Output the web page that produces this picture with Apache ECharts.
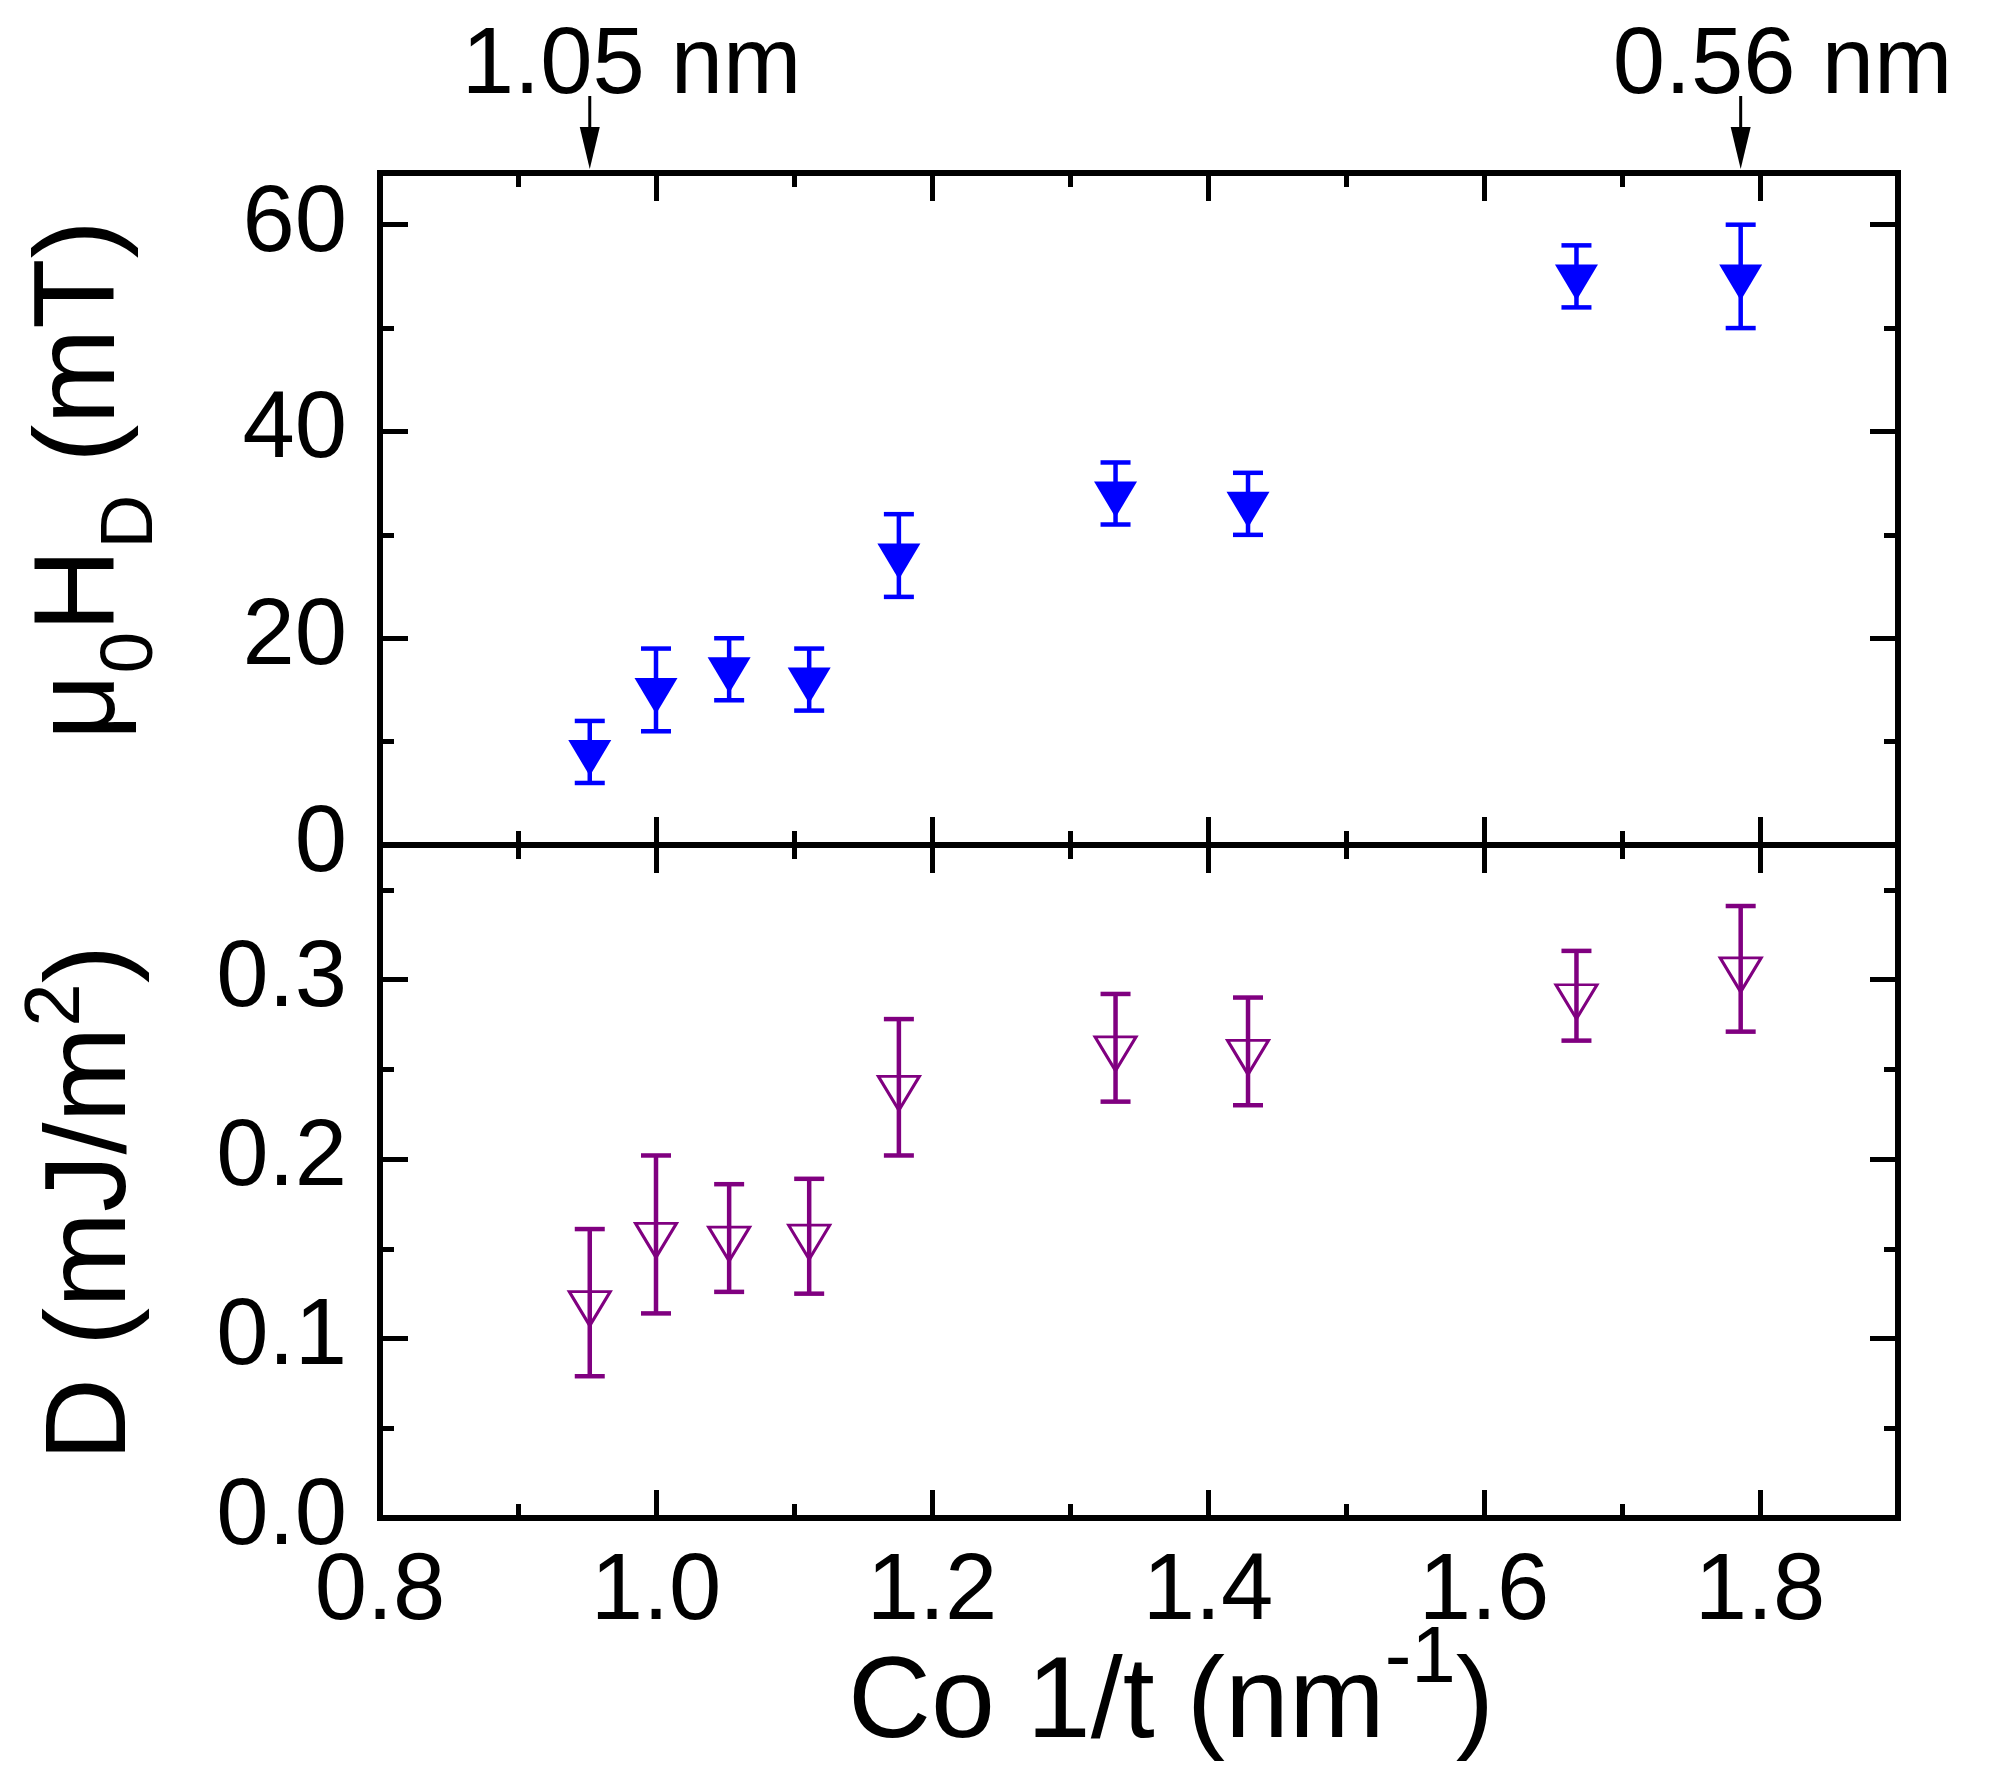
<!DOCTYPE html>
<html>
<head>
<meta charset="utf-8">
<title>H_D and D versus Co 1/t</title>
<script src="https://cdn.jsdelivr.net/npm/echarts@6/dist/echarts.min.js"></script>
<style>
  html, body { margin: 0; padding: 0; background: #fff; }
  #chart { width: 2007px; height: 1771px; }
</style>
</head>
<body>
<div id="chart"></div>
<script>
// Co inverse thickness 1/t (nm^-1), one per sample
var invT = [0.952, 1.000, 1.053, 1.111, 1.176, 1.333, 1.429, 1.667, 1.786];
// mu0 H_D (mT) with error
var hdVal = [9, 15, 17, 16, 28, 34, 33, 55, 55];
var hdErr = [3, 4, 3, 3, 4, 3, 3, 3, 5];
// D (mJ/m^2) with error
var dVal = [0.120, 0.158, 0.156, 0.157, 0.240, 0.262, 0.260, 0.291, 0.306];
var dErr = [0.041, 0.044, 0.030, 0.032, 0.038, 0.030, 0.030, 0.025, 0.035];
// thickness arrows above the top frame
var markX = [0.952, 1.786];
var markText = ['1.05 nm', '0.56 nm'];

var xMin = 0.8, xMax = 1.9, xStep = 0.2;
var hdMin = 0, hdMax = 65, hdStep = 20;
var dMin = 0, dMax = 0.375, dStep = 0.1;

var FONT = "'Liberation Sans', Arial, sans-serif";
var BLUE = '#0000ff', PURPLE = '#800080';
var TRI = 'path://M0,0L100,0L50,86.6Z'; // downward triangle

function frameAxis(gridIndex, position, min, max, interval, tickLen, showLine, label) {
    return {
        type: 'value', gridIndex: gridIndex, position: position,
        min: min, max: max, interval: interval,
        axisLine: { show: showLine, onZero: false, lineStyle: { color: '#000', width: 6, cap: 'square' } },
        axisTick: { show: true, inside: true, length: tickLen, lineStyle: { color: '#000', width: 5 } },
        axisLabel: label ? Object.assign({ show: true, showMaxLabel: false, color: '#000',
            fontSize: 94, fontFamily: FONT }, label) : { show: false },
        splitLine: { show: false }
    };
}

// each edge gets a long-tick axis and a short-tick (minor) axis on top of it
function edge(list, gridIndex, position, min, max, step, label) {
    list.push(frameAxis(gridIndex, position, min, max, step, 28, true, label));
    list.push(frameAxis(gridIndex, position, min, max, step / 2, 14, false, null));
}

var xAxes = [], yAxes = [];
var xLabel = { margin: 28, formatter: function (v) { return v.toFixed(1); } };
edge(xAxes, 0, 'top', xMin, xMax, xStep, null);        // 0,1
edge(xAxes, 0, 'bottom', xMin, xMax, xStep, null);     // 2,3
edge(xAxes, 1, 'top', xMin, xMax, xStep, null);        // 4,5
edge(xAxes, 1, 'bottom', xMin, xMax, xStep, xLabel);   // 6,7
edge(yAxes, 0, 'left', hdMin, hdMax, hdStep, { margin: 33 });   // 0,1
edge(yAxes, 0, 'right', hdMin, hdMax, hdStep, null);            // 2,3
edge(yAxes, 1, 'left', dMin, dMax, dStep, { margin: 33, formatter: function (v) { return v.toFixed(1); } }); // 4,5
edge(yAxes, 1, 'right', dMin, dMax, dStep, null);               // 6,7

function errorBars(color) {
    return function (params, api) {
        var x = api.value(0), y = api.value(1), e = api.value(2);
        var hi = api.coord([x, y + e]);
        var lo = api.coord([x, y - e]);
        var half = 15;
        var st = { stroke: color, lineWidth: 4.5 };
        return {
            type: 'group',
            children: [
                { type: 'line', shape: { x1: hi[0], y1: hi[1], x2: lo[0], y2: lo[1] }, style: st },
                { type: 'line', shape: { x1: hi[0] - half, y1: hi[1], x2: hi[0] + half, y2: hi[1] }, style: st },
                { type: 'line', shape: { x1: lo[0] - half, y1: lo[1], x2: lo[0] + half, y2: lo[1] }, style: st }
            ]
        };
    };
}

function zip3(a, b, c) {
    return a.map(function (v, i) { return [v, b[i], c[i]]; });
}
function zip2(a, b) {
    return a.map(function (v, i) { return [v, b[i]]; });
}

var chart = echarts.init(document.getElementById('chart'), null, { renderer: 'canvas' });

// rich text: token 'height' sets where a sub/superscript sits inside the 115px line
var mainRich = { fill: '#000', fontSize: 115, fontFamily: FONT, lineHeight: 115 };
function rich(extra) { return Object.assign({}, mainRich, extra); }
function subStyle(size, h) { return rich({ fontSize: size, height: h, lineHeight: h, verticalAlign: 'bottom' }); }
function supStyle(size, h) { return rich({ fontSize: size, height: h, lineHeight: h, verticalAlign: 'top' }); }

function title(x, y, rot, text, richStyles) {
    return {
        type: 'text', x: x, y: y, rotation: rot,
        style: {
            text: text,
            align: 'center', verticalAlign: 'middle', textAlign: 'center', textVerticalAlign: 'middle',
            rich: richStyles
        }
    };
}

chart.setOption({
    animation: false,
    backgroundColor: '#fff',
    grid: [
        { left: 380, right: 109, top: 173, height: 672, outerBoundsMode: 'none' },
        { left: 380, right: 109, top: 845, height: 673, outerBoundsMode: 'none' }
    ],
    xAxis: xAxes,
    yAxis: yAxes,
    graphic: [
        title(82, 480, Math.PI / 2, '{m|\u03bc}{s|0}{m|H}{s|D}{m| (mT)}',
            { m: rich({}), s: subStyle(75, 17) }),
        title(93, 1203, Math.PI / 2, '{m|D (mJ/m}{p|2}{m|)}',
            { m: rich({}), p: supStyle(78, 43) }),
        title(1171, 1705, 0, '{m|Co 1/t (nm}{p|-1}{m|)}',
            { m: rich({}), p: supStyle(80, 25) })
    ],
    series: [
        {
            type: 'custom', name: 'HD error', xAxisIndex: 2, yAxisIndex: 0,
            renderItem: errorBars(BLUE), data: zip3(invT, hdVal, hdErr), z: 2
        },
        {
            type: 'scatter', name: 'HD', xAxisIndex: 2, yAxisIndex: 0,
            symbol: TRI, symbolKeepAspect: false, symbolSize: [43, 36], symbolOffset: [0, 6],
            itemStyle: { color: BLUE, opacity: 1 },
            data: zip2(invT, hdVal), z: 3
        },
        {
            type: 'custom', name: 'D error', xAxisIndex: 6, yAxisIndex: 4,
            renderItem: errorBars(PURPLE), data: zip3(invT, dVal, dErr), z: 2
        },
        {
            type: 'scatter', name: 'D', xAxisIndex: 6, yAxisIndex: 4,
            symbol: TRI, symbolKeepAspect: false, symbolSize: [41, 34], symbolOffset: [0, 6],
            itemStyle: { color: 'rgba(255,255,255,0)', borderColor: PURPLE, borderWidth: 3, opacity: 1 },
            data: zip2(invT, dVal), z: 3
        },
        {
            type: 'custom', name: 'thickness marks', xAxisIndex: 0, yAxisIndex: 0,
            data: markX.map(function (v) { return [v, hdMax]; }),
            renderItem: function (params, api) {
                var p = api.coord([api.value(0), api.value(1)]);
                var top = p[1];
                return {
                    type: 'group',
                    children: [
                        { type: 'line', shape: { x1: p[0], y1: top - 77, x2: p[0], y2: top - 40 },
                          style: { stroke: '#000', lineWidth: 3 } },
                        { type: 'polygon', shape: { points: [[p[0] - 10, top - 46], [p[0] + 10, top - 46], [p[0], top - 4]] },
                          style: { fill: '#000' } },
                        { type: 'text', x: p[0] - 128, y: top - 106,
                          style: { text: markText[params.dataIndex], fill: '#000', fontSize: 94, fontFamily: FONT,
                                   align: 'left', verticalAlign: 'middle', textAlign: 'left', textVerticalAlign: 'middle' } }
                    ]
                };
            },
            z: 4
        }
    ]
});
</script>
</body>
</html>
